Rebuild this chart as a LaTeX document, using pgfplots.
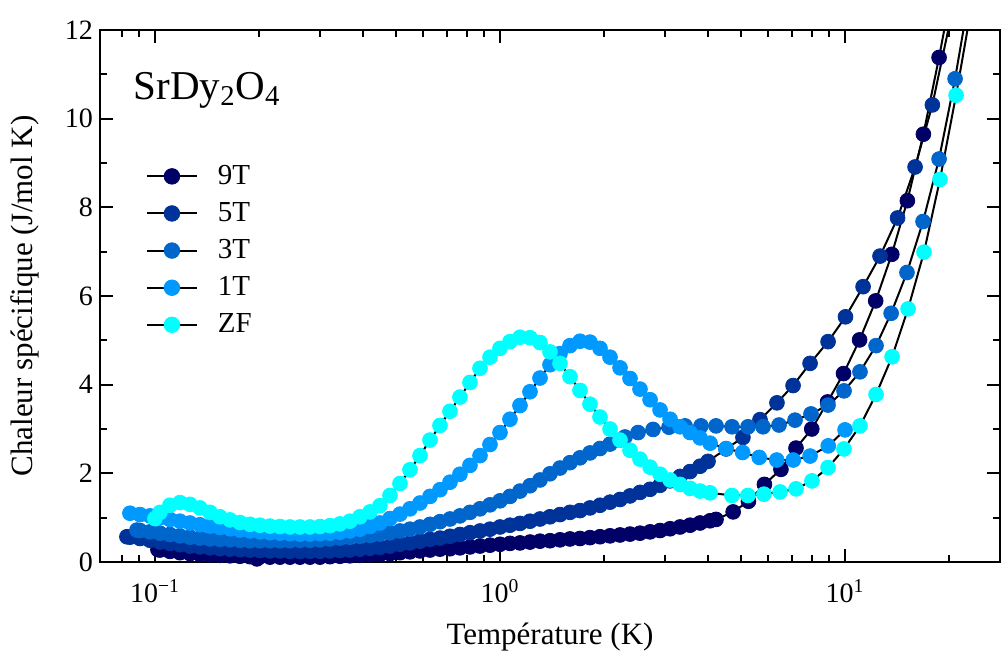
\documentclass[border=0pt]{standalone}
\usepackage{fontspec}
\setmainfont{Liberation Serif}
\usepackage{pgfplots}
\usepackage{pgfplotstable}
\pgfplotsset{compat=1.18}
\definecolor{cNine}{HTML}{000066}
\definecolor{cFive}{HTML}{003399}
\definecolor{cThree}{HTML}{0066CC}
\definecolor{cOne}{HTML}{0099FF}
\definecolor{cZF}{HTML}{00FFFF}

\pgfplotstableread{
T C
0.10202 0.28
0.10340 0.27
0.11052 0.24
0.11814 0.21
0.12630 0.19
0.13501 0.17
0.14434 0.16
0.15430 0.15
0.16500 0.14
0.17634 0.13
0.18853 0.12
0.19755 0.07
0.20155 0.12
0.21544 0.11
0.23035 0.11
0.24623 0.11
0.26322 0.11
0.28134 0.11
0.30083 0.11
0.32160 0.12
0.34375 0.13
0.36744 0.14
0.39278 0.15
0.41998 0.16
0.44881 0.17
0.47985 0.19
0.51309 0.21
0.54847 0.23
0.58637 0.25
0.62678 0.27
0.67009 0.29
0.71628 0.30
0.76560 0.32
0.81846 0.34
0.87510 0.36
0.93546 0.38
1.0000 0.40
1.0690 0.42
1.1428 0.43
1.2217 0.45
1.3060 0.47
1.3961 0.48
1.4924 0.50
1.5954 0.52
1.7055 0.53
1.8232 0.55
1.9494 0.57
2.0839 0.59
2.2278 0.61
2.3812 0.63
2.5456 0.65
2.7227 0.68
2.9100 0.71
3.1113 0.75
3.3259 0.79
3.5551 0.83
3.8008 0.88
4.0630 0.93
4.2280 0.96
4.74 1.13
5.25 1.37
5.84 1.75
6.52 2.09
7.21 2.57
8.01 3.00
8.90 3.61
9.90 4.25
11.02 5.01
12.27 5.89
13.66 6.94
15.16 8.15
16.87 9.65
18.73 11.38
}\nine

\pgfplotstableread{
T C
0.08294 0.57
0.08463 0.56
0.09049 0.53
0.09672 0.49
0.10340 0.45
0.11052 0.42
0.11814 0.39
0.12630 0.36
0.13501 0.34
0.14434 0.32
0.15430 0.30
0.16500 0.29
0.17634 0.28
0.18853 0.27
0.20155 0.26
0.21544 0.25
0.23035 0.25
0.24623 0.24
0.26322 0.24
0.28134 0.24
0.30083 0.24
0.32160 0.25
0.34375 0.26
0.36744 0.27
0.39278 0.29
0.41998 0.31
0.44881 0.33
0.47985 0.36
0.51309 0.40
0.54847 0.43
0.58637 0.47
0.62678 0.51
0.67009 0.54
0.71628 0.58
0.76560 0.62
0.81846 0.66
0.87510 0.70
0.93546 0.74
1.0000 0.79
1.0690 0.83
1.1428 0.87
1.2217 0.92
1.3060 0.97
1.3961 1.02
1.4924 1.07
1.5954 1.12
1.7055 1.16
1.8232 1.22
1.9494 1.28
2.0839 1.35
2.2278 1.41
2.3812 1.49
2.5456 1.57
2.7227 1.64
2.9100 1.73
3.1113 1.83
3.3259 1.93
3.5551 2.04
3.8008 2.16
4.0083 2.27
4.52 2.55
5.06 2.81
5.67 3.21
6.35 3.59
7.07 3.98
7.92 4.48
8.93 4.97
10.03 5.53
11.28 6.21
12.63 6.90
14.20 7.76
15.96 8.91
17.91 10.31
}\five

\pgfplotstableread{
T C
0.08868 0.72
0.09049 0.71
0.09672 0.68
0.10340 0.65
0.11052 0.62
0.11814 0.59
0.12630 0.56
0.13501 0.54
0.14434 0.52
0.15430 0.51
0.16500 0.50
0.17634 0.49
0.18853 0.48
0.20155 0.48
0.21544 0.48
0.23035 0.48
0.24623 0.48
0.26322 0.49
0.28134 0.49
0.30083 0.50
0.32160 0.52
0.34375 0.54
0.36744 0.56
0.39278 0.58
0.41998 0.60
0.44881 0.63
0.47985 0.66
0.51309 0.70
0.54847 0.74
0.58637 0.79
0.62678 0.85
0.67009 0.91
0.71628 0.97
0.76560 1.04
0.81846 1.12
0.87510 1.20
0.93546 1.29
1.0000 1.38
1.0690 1.48
1.1428 1.60
1.2217 1.72
1.3060 1.85
1.3961 1.99
1.4924 2.12
1.5954 2.24
1.7055 2.35
1.8232 2.46
1.9494 2.56
2.0839 2.66
2.2278 2.75
2.3035 2.82
2.512 2.92
2.777 2.99
3.090 3.04
3.438 3.07
3.824 3.07
4.228 3.07
4.704 3.05
5.234 3.05
5.786 3.05
6.438 3.09
7.163 3.20
7.969 3.34
8.926 3.54
9.933 3.86
11.05 4.29
12.30 4.88
13.60 5.61
15.12 6.53
16.83 7.68
18.73 9.09
20.84 10.90
}\three

\pgfplotstableread{
T C
0.08463 1.10
0.09049 1.07
0.09672 1.04
0.10340 1.00
0.11052 0.96
0.11814 0.92
0.12630 0.88
0.13501 0.84
0.14434 0.81
0.15430 0.78
0.16500 0.75
0.17634 0.72
0.18853 0.70
0.20155 0.68
0.21544 0.66
0.23035 0.65
0.24623 0.64
0.26322 0.63
0.28134 0.63
0.30083 0.64
0.32160 0.65
0.34375 0.67
0.36744 0.70
0.39278 0.74
0.41998 0.80
0.44881 0.88
0.47985 0.98
0.51309 1.08
0.54847 1.20
0.58637 1.33
0.62678 1.48
0.67009 1.63
0.71628 1.80
0.76560 1.98
0.81846 2.18
0.87510 2.40
0.93546 2.65
1.0000 2.92
1.0690 3.22
1.1428 3.53
1.2217 3.84
1.3060 4.15
1.3961 4.45
1.4924 4.70
1.5954 4.88
1.7055 4.98
1.8232 4.96
1.9494 4.82
2.0839 4.62
2.2278 4.38
2.3812 4.14
2.5456 3.90
2.7227 3.66
2.9100 3.43
3.1113 3.22
3.3259 3.05
3.5551 2.92
3.8008 2.80
4.0630 2.68
4.52 2.56
5.05 2.47
5.64 2.36
6.34 2.30
7.08 2.30
7.92 2.39
8.94 2.62
10.0 2.98
}\one

\pgfplotstableread{
T C
0.1000 0.98
0.10340 1.12
0.11052 1.28
0.11814 1.34
0.12630 1.30
0.13501 1.22
0.14434 1.12
0.15430 1.02
0.16500 0.95
0.17634 0.89
0.18853 0.85
0.20155 0.83
0.21544 0.81
0.23035 0.80
0.24623 0.79
0.26322 0.79
0.28134 0.79
0.30083 0.80
0.32160 0.82
0.34375 0.86
0.36744 0.92
0.39278 1.02
0.41998 1.13
0.44881 1.27
0.47985 1.50
0.51309 1.77
0.54847 2.08
0.58637 2.40
0.62678 2.75
0.67009 3.08
0.71628 3.40
0.76560 3.72
0.81846 4.05
0.87510 4.37
0.93546 4.62
1.0000 4.82
1.0690 4.97
1.1428 5.07
1.2217 5.06
1.3060 4.95
1.3961 4.74
1.4924 4.48
1.5954 4.18
1.7055 3.87
1.8232 3.56
1.9494 3.27
2.0839 3.00
2.2278 2.75
2.3812 2.52
2.5456 2.32
2.7227 2.14
2.9100 1.98
3.1113 1.85
3.3259 1.75
3.5551 1.66
3.8008 1.60
4.0630 1.56
4.70 1.50
5.23 1.50
5.82 1.53
6.48 1.58
7.21 1.65
8.02 1.83
8.93 2.13
9.93 2.55
11.05 3.07
12.30 3.78
13.69 4.63
15.23 5.71
16.94 6.99
18.85 8.63
20.98 10.53
}\zf

\begin{document}
\begin{tikzpicture}
\begin{axis}[
  scale only axis,
  width=450pt, height=266pt,
  xmode=log,
  xmin=0.0693, xmax=28.13,
  ymin=0, ymax=12,
  xtick={0.1,1,10},
  xticklabels={10\textsuperscript{−1},10\textsuperscript{0},10\textsuperscript{1}},
  minor xtick={0.08,0.09,0.2,0.3,0.4,0.5,0.6,0.7,0.8,0.9,2,3,4,5,6,7,8,9,20},
  ytick={0,2,4,6,8,10,12},
  minor ytick={1,3,5,7,9,11},
  tick align=inside,
  major tick length=6.5pt,
  minor tick length=3.5pt,
  tick style={black, line width=1pt},
  axis line style={line width=1.2pt},
  /pgf/number format/assume math mode=true,
  tick label style={font=\fontsize{14}{16}\selectfont},
  xticklabel style={yshift=-5pt},
  xlabel={Température (K)},
  ylabel={Chaleur spécifique (J/mol K)},
  label style={font=\fontsize{15.5}{18}\selectfont},
  xlabel style={at={(axis description cs:0.5,-0.141)}, anchor=center},
  ylabel style={at={(axis description cs:-0.0833,0.5)}, anchor=center},
  legend style={draw=none, fill=none, at={(rel axis cs:0.0506,0.754)}, anchor=north west,
    font=\fontsize{14.5}{16}\selectfont, row sep=3.5pt, inner sep=0pt},
  legend cell align=left,
]
\coordinate (bl) at (rel axis cs:0,0);
% connecting lines
\addplot[black, line width=1pt, forget plot] table[x=T,y=C] {\nine};
\addplot[black, line width=1pt, forget plot] coordinates {(18.73,11.38) (20.84,13.3)};
\addplot[black, line width=1pt, forget plot] table[x=T,y=C] {\five};
\addplot[black, line width=1pt, forget plot] coordinates {(17.91,10.31) (20.16,12.2)};
\addplot[black, line width=1pt, forget plot] table[x=T,y=C] {\three};
\addplot[black, line width=1pt, forget plot] coordinates {(20.84,10.90) (23.19,13.0)};
\addplot[black, line width=1pt, forget plot] table[x=T,y=C] {\one};
\addplot[black, line width=1pt, forget plot] table[x=T,y=C] {\zf};
\addplot[black, line width=1pt, forget plot] coordinates {(20.98,10.53) (23.35,12.6)};
% markers
\addplot[only marks, mark=*, mark size=3.7pt, color=cNine,
  legend image code/.code={\path[draw=none,fill=none] (0pt,-0.1pt) rectangle (33.5pt,0.1pt); \draw[black,line width=1pt] (0pt,0pt)--(25pt,0pt); \fill[cNine] (12.5pt,0pt) circle[radius=3.9pt];}]
  table[x=T,y=C] {\nine};
\addlegendentry{9T}
\addplot[only marks, mark=*, mark size=3.7pt, color=cFive,
  legend image code/.code={\path[draw=none,fill=none] (0pt,-0.1pt) rectangle (33.5pt,0.1pt); \draw[black,line width=1pt] (0pt,0pt)--(25pt,0pt); \fill[cFive] (12.5pt,0pt) circle[radius=3.9pt];}]
  table[x=T,y=C] {\five};
\addlegendentry{5T}
\addplot[only marks, mark=*, mark size=3.7pt, color=cThree,
  legend image code/.code={\path[draw=none,fill=none] (0pt,-0.1pt) rectangle (33.5pt,0.1pt); \draw[black,line width=1pt] (0pt,0pt)--(25pt,0pt); \fill[cThree] (12.5pt,0pt) circle[radius=3.9pt];}]
  table[x=T,y=C] {\three};
\addlegendentry{3T}
\addplot[only marks, mark=*, mark size=3.7pt, color=cOne,
  legend image code/.code={\path[draw=none,fill=none] (0pt,-0.1pt) rectangle (33.5pt,0.1pt); \draw[black,line width=1pt] (0pt,0pt)--(25pt,0pt); \fill[cOne] (12.5pt,0pt) circle[radius=3.9pt];}]
  table[x=T,y=C] {\one};
\addlegendentry{1T}
\addplot[only marks, mark=*, mark size=3.7pt, color=cZF,
  legend image code/.code={\path[draw=none,fill=none] (0pt,-0.1pt) rectangle (33.5pt,0.1pt); \draw[black,line width=1pt] (0pt,0pt)--(25pt,0pt); \fill[cZF] (12.5pt,0pt) circle[radius=3.9pt];}]
  table[x=T,y=C] {\zf};
\addlegendentry{ZF}
\node[anchor=base west, inner sep=0pt, font=\fontsize{20.5}{24}\selectfont] at (rel axis cs:0.037,0.870) {SrDy\textsubscript{2}O\textsubscript{4}};
\end{axis}
\pgfresetboundingbox
\path ([shift={(-50pt,-48pt)}]bl) rectangle ++(500.5pt,329pt);
\end{tikzpicture}
\end{document}
